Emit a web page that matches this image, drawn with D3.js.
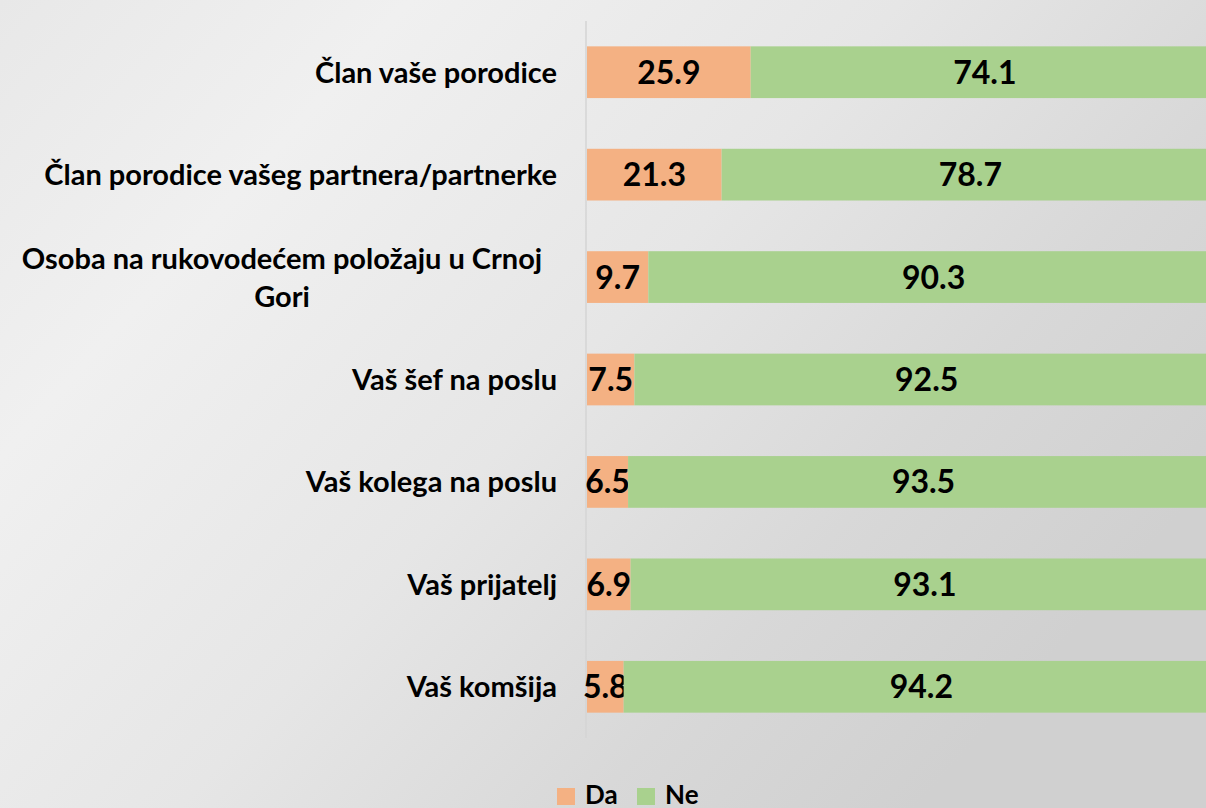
<!DOCTYPE html>
<html>
<head>
<meta charset="utf-8">
<script src="https://cdn.jsdelivr.net/npm/d3@7"></script>
<style>
  body { margin: 0; overflow: hidden; }
  svg { display: block; }
</style>
</head>
<body>
<script>
// data
var categories = [
  "Član vaše porodice",
  "Član porodice vašeg partnera/partnerke",
  "Osoba na rukovodećem položaju u Crnoj Gori",
  "Vaš šef na poslu",
  "Vaš kolega na poslu",
  "Vaš prijatelj",
  "Vaš komšija"
];
var seriesNames = ["Da", "Ne"];
var daValues = [25.9, 21.3, 9.7, 7.5, 6.5, 6.9, 5.8];
var neValues = [74.1, 78.7, 90.3, 92.5, 93.5, 93.1, 94.2];
// how category labels break into lines
var labelLines = [
  ["Član vaše porodice"],
  ["Član porodice vašeg partnera/partnerke"],
  ["Osoba na rukovodećem položaju u Crnoj", "Gori"],
  ["Vaš šef na poslu"],
  ["Vaš kolega na poslu"],
  ["Vaš prijatelj"],
  ["Vaš komšija"]
];
var colors = ["#f4b183", "#a9d18e"];

var width = 1206;
var height = 808;
var font = "Lato, 'Open Sans', sans-serif";

var svg = d3.select("body")
  .append("svg")
  .attr("width", width)
  .attr("height", height);

// background
var defs = svg.append("defs");
var bg = defs.append("linearGradient")
  .attr("id", "bg")
  .attr("x1", "0%").attr("y1", "0%")
  .attr("x2", "100%").attr("y2", "60%");
bg.append("stop").attr("offset", "0%").attr("stop-color", "#e8e8e8");
bg.append("stop").attr("offset", "25%").attr("stop-color", "#f0f0f0");
bg.append("stop").attr("offset", "55%").attr("stop-color", "#e6e6e6");
bg.append("stop").attr("offset", "80%").attr("stop-color", "#d8d8d8");
bg.append("stop").attr("offset", "100%").attr("stop-color", "#d0d0d0");

svg.append("rect")
  .attr("width", width)
  .attr("height", height)
  .attr("fill", "url(#bg)");

var rows = categories.map(function(c, i) {
  return { cat: c, da: daValues[i], ne: neValues[i], lines: labelLines[i] };
});

var x = d3.scaleLinear()
  .domain([0, 100])
  .range([587, 1219]);

var y = d3.scaleBand()
  .domain(categories)
  .range([21, 738])
  .paddingInner(0.495)
  .paddingOuter(0.2475);

// axis line
svg.append("line")
  .attr("x1", 586).attr("x2", 586)
  .attr("y1", 21).attr("y2", 738)
  .attr("stroke", "#d4d4d4")
  .attr("stroke-width", 1.5);

var stack = d3.stack().keys(["da", "ne"]);
var layers = stack(rows);

var layer = svg.selectAll("g.layer")
  .data(layers)
  .enter()
  .append("g")
  .attr("class", "layer")
  .attr("fill", function(d, i) { return colors[i]; });

layer.selectAll("rect")
  .data(function(d) { return d; })
  .enter()
  .append("rect")
  .attr("x", function(d) { return x(d[0]); })
  .attr("width", function(d) { return x(d[1]) - x(d[0]); })
  .attr("y", function(d) { return y(d.data.cat); })
  .attr("height", y.bandwidth());

layer.selectAll("text")
  .data(function(d) { return d; })
  .enter()
  .append("text")
  .attr("x", function(d) { return (x(d[0]) + x(d[1])) / 2; })
  .attr("y", function(d) { return y(d.data.cat) + y.bandwidth() / 2; })
  .attr("dy", "0.36em")
  .attr("text-anchor", "middle")
  .attr("fill", "#000")
  .style("font-family", font)
  .style("font-weight", "bold")
  .style("font-size", "32px")
  .text(function(d) { return (d[1] - d[0]).toFixed(1); });

// category labels
var labels = svg.selectAll("text.cat")
  .data(rows)
  .enter()
  .append("text")
  .attr("class", "cat")
  .style("font-family", font)
  .style("font-weight", "bold")
  .style("font-size", "29px")
  .attr("fill", "#000");

labels.each(function(d) {
  var t = d3.select(this);
  var cy = y(d.cat) + y.bandwidth() / 2;
  var lh = 38;
  var multi = d.lines.length > 1;
  var startY = cy - (d.lines.length - 1) * lh / 2;
  d.lines.forEach(function(line, k) {
    t.append("tspan")
      .attr("x", multi ? 282 : 557)
      .attr("y", startY + k * lh)
      .attr("dy", "0.36em")
      .attr("text-anchor", multi ? "middle" : "end")
      .text(line);
  });
});

// legend
var legend = svg.selectAll("g.legend")
  .data(seriesNames)
  .enter()
  .append("g")
  .attr("class", "legend")
  .attr("transform", function(d, i) { return "translate(" + (557 + i * 80) + ",788)"; });

legend.append("rect")
  .attr("width", 18)
  .attr("height", 17)
  .attr("fill", function(d, i) { return colors[i]; });

legend.append("text")
  .attr("x", 28)
  .attr("y", 16)
  .style("font-family", font)
  .style("font-weight", "bold")
  .style("font-size", "26px")
  .attr("fill", "#000")
  .text(function(d) { return d; });
</script>
</body>
</html>
